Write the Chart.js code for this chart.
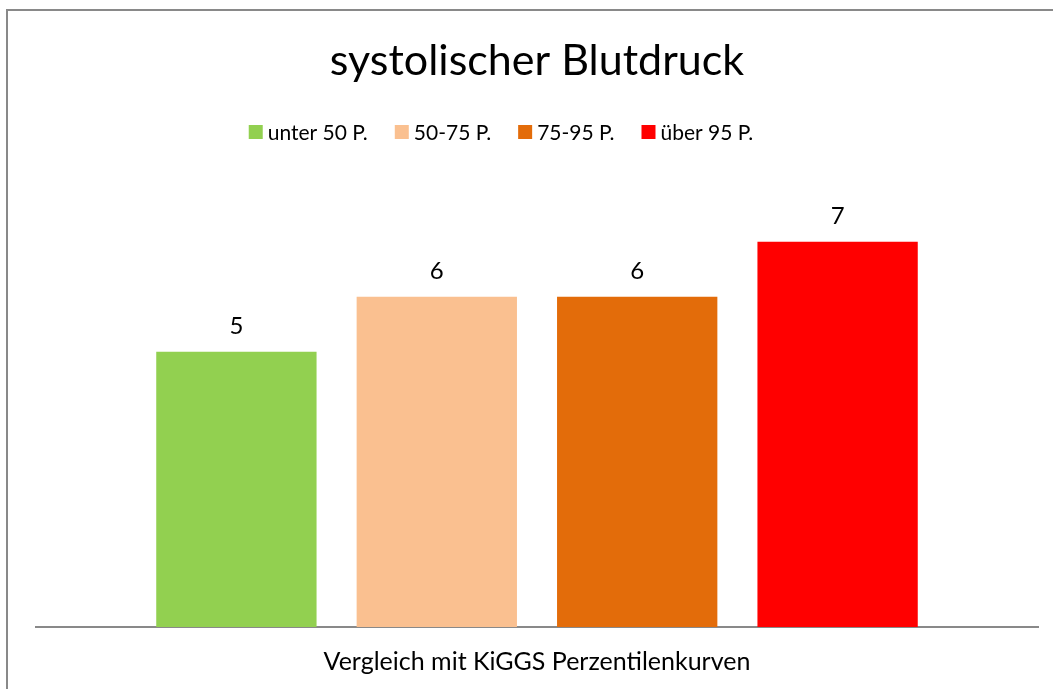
<!DOCTYPE html>
<html>
<head>
<meta charset="utf-8">
<script src="https://cdn.jsdelivr.net/npm/chart.js@4.4.1/dist/chart.umd.min.js"></script>
<style>
  html, body { margin: 0; padding: 0; background: #fff; overflow: hidden; }
  #frame {
    position: absolute; left: 6px; top: 9px; width: 1100px; height: 720px;
    border-left: 2px solid #898989; border-top: 2px solid #898989;
  }
  #chart { position: absolute; left: 0; top: 0; }
</style>
</head>
<body>
<div id="frame"></div>
<canvas id="chart" width="1053" height="689"></canvas>
<script>
const categories = ['Vergleich mit KiGGS Perzentilenkurven'];
const seriesNames = ['unter 50 P.', '50-75 P.', '75-95 P.', 'über 95 P.'];
const seriesValues = [[5], [6], [6], [7]];
const seriesColors = ['#92D050', '#FAC090', '#E36C0A', '#FF0000'];

const FONT = 'Lato, "Open Sans", sans-serif';

// value labels above each bar
const valueLabels = {
  id: 'valueLabels',
  afterDatasetsDraw(chart) {
    const ctx = chart.ctx;
    ctx.save();
    ctx.font = '24px ' + FONT;
    ctx.fillStyle = '#000';
    ctx.textAlign = 'center';
    ctx.textBaseline = 'alphabetic';
    chart.data.datasets.forEach((ds, i) => {
      chart.getDatasetMeta(i).data.forEach((bar, j) => {
        ctx.fillText(String(ds.data[j]), bar.x, bar.y - 18);
      });
    });
    ctx.restore();
  }
};

// compact legend row: small square + name, centred a bit left of the plot
const legendRow = {
  id: 'legendRow',
  afterDraw(chart) {
    const ctx = chart.ctx;
    const box = 14, gap = 5, itemGap = 27, cy = 132, cx = 501;
    ctx.save();
    ctx.font = '21px ' + FONT;
    ctx.textBaseline = 'middle';
    ctx.textAlign = 'left';
    const items = chart.data.datasets.map(ds => ({
      text: ds.label, color: ds.backgroundColor, w: ctx.measureText(ds.label).width
    }));
    const total = items.reduce((s, it) => s + box + gap + it.w, 0) + itemGap * (items.length - 1);
    let x = cx - total / 2;
    items.forEach(it => {
      ctx.fillStyle = it.color;
      ctx.fillRect(x, cy - box / 2, box, box);
      ctx.fillStyle = '#000';
      ctx.fillText(it.text, x + box + gap, cy + 1);
      x += box + gap + it.w + itemGap;
    });
    ctx.restore();
  }
};

const ctx = document.getElementById('chart').getContext('2d');
window.myChart = new Chart(ctx, {
  type: 'bar',
  data: {
    labels: categories,
    datasets: seriesNames.map((name, i) => ({
      label: name,
      data: seriesValues[i],
      backgroundColor: seriesColors[i],
      barPercentage: 0.8,
      categoryPercentage: 0.8
    }))
  },
  options: {
    responsive: false,
    animation: false,
    layout: { padding: { left: 36, right: 15, top: 0, bottom: 0 } },
    plugins: {
      title: {
        display: true,
        text: 'systolischer Blutdruck',
        color: '#000',
        font: { family: FONT, size: 43, weight: 'normal' },
        padding: { top: 35, bottom: 66 }
      },
      legend: { display: false },
      tooltip: { enabled: false }
    },
    scales: {
      x: {
        grid: { display: false },
        border: { display: true, color: '#898989', width: 2 },
        ticks: { color: '#000', font: { family: FONT, size: 25 }, padding: 12 }
      },
      y: {
        display: false,
        min: 0,
        max: 8.62
      }
    }
  },
  plugins: [valueLabels, legendRow]
});
</script>
</body>
</html>
